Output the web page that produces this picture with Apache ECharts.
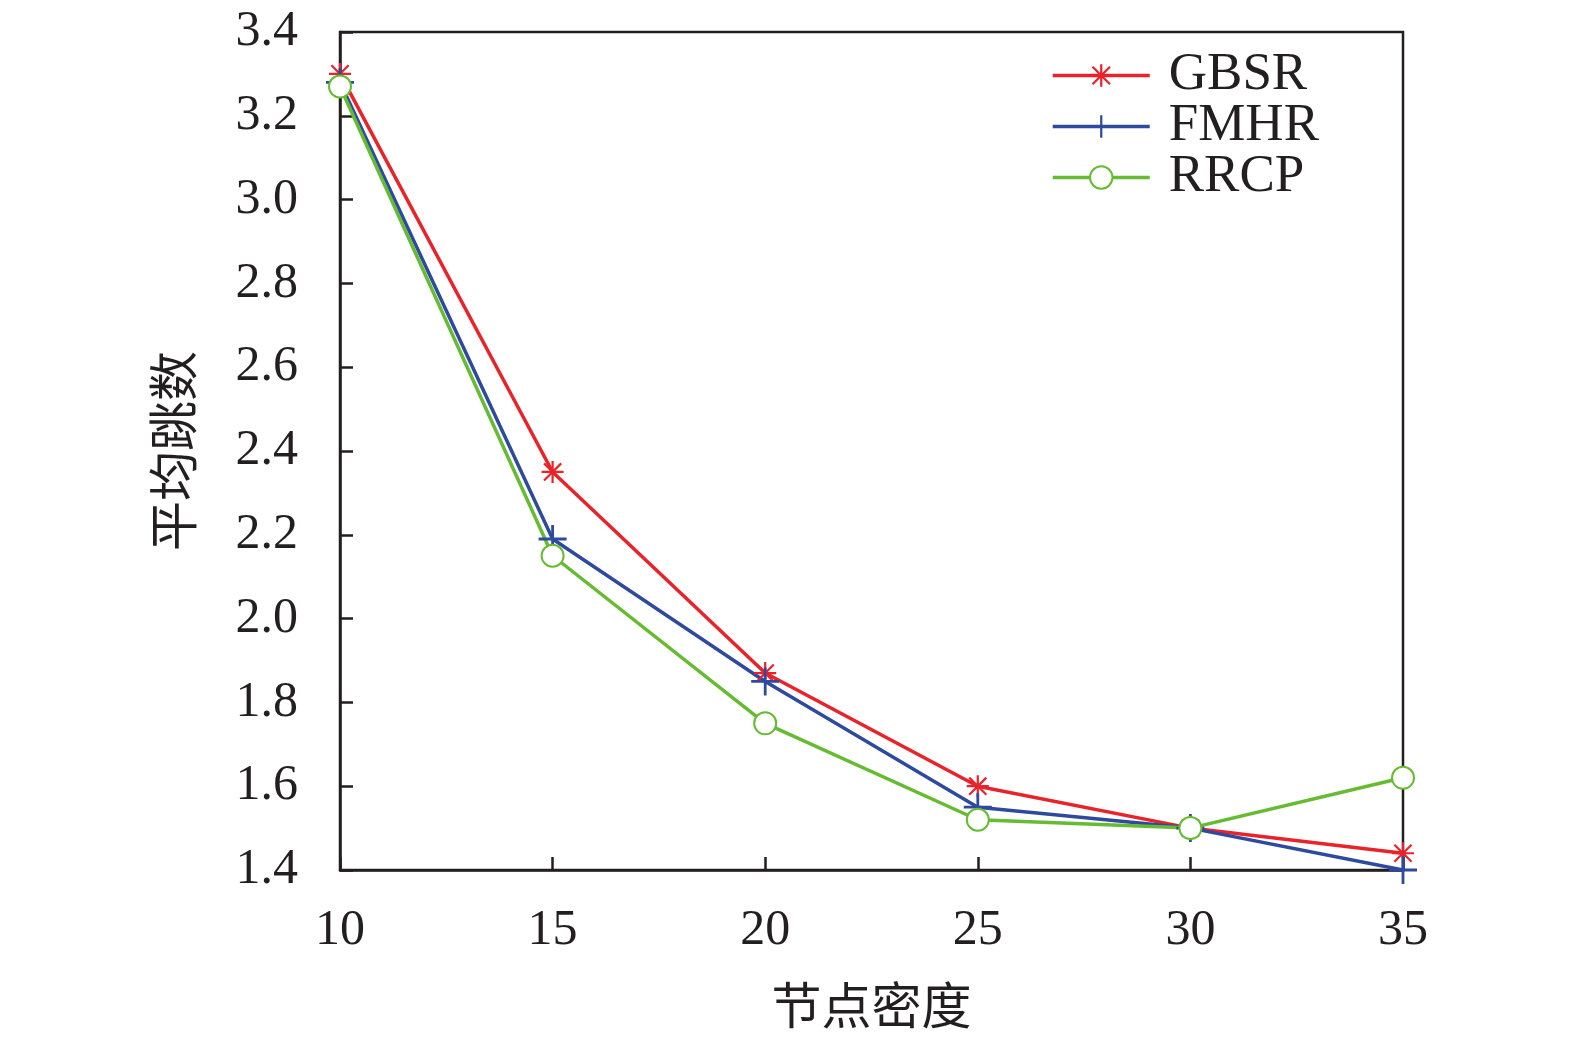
<!DOCTYPE html>
<html>
<head>
    <meta charset="utf-8">
    <title></title>
    <style>
        body{ margin: 0; }
        #chart{ width: 1575px; height: 1041px; }
    </style>
    <script src="https://cdn.jsdelivr.net/npm/echarts@6/dist/echarts.min.js"></script>
</head>
<body>
<div id="chart"></div>
<script>
    var density = [10, 15, 20, 25, 30, 35];
    var gbsr = [3.30, 2.35, 1.87, 1.60, 1.50, 1.44];
    var fmhr = [3.28, 2.19, 1.85, 1.55, 1.50, 1.40];
    var rrcp = [3.27, 2.15, 1.75, 1.52, 1.50, 1.62];
    var names = ['GBSR', 'FMHR', 'RRCP'];

    // 星号和加号的形状
    var starPath = 'path://M9 0H11V20H9Z M0 9H20V11H0Z M1.5 2.9L2.9 1.5L18.5 17.1L17.1 18.5Z M17.1 1.5L18.5 2.9L2.9 18.5L1.5 17.1Z';
    var plusPath = 'path://M9 0H11V20H9Z M0 9H20V11H0Z';

    var serifFont = '"Liberation Serif", "Times New Roman", serif';
    var cjkFont = '"Noto Sans CJK SC", sans-serif';
    var black = '#231f20';

    function pairs(arr){
        var out = [];
        for(var i=0;i<arr.length;i++){
            out.push([density[i], arr[i]]);
        }
        return out;
    }

    var option = {
        animation: false,
        grid: {
            left: 340, right: 172, top: 32, bottom: 171,
            outerBoundsMode: 'none',
            show: true, borderColor: black, borderWidth: 2.5,
            backgroundColor: 'transparent'
        },
        legend: {
            orient: 'vertical',
            left: 1046, top: 44,
            itemWidth: 97, itemHeight: 28, itemGap: -2,
            lineStyle: { width: 3.5 },
            textStyle: { fontFamily: serifFont, fontSize: 53, lineHeight: 45, color: black, padding: [0,0,0,14] },
            data: names
        },
        xAxis: {
            type: 'value', min: 10, max: 35, interval: 5,
            name: '节点密度', nameLocation: 'middle', nameGap: 110,
            nameTextStyle: { fontFamily: cjkFont, fontSize: 50, color: black },
            axisLine: { show: true, lineStyle: { color: black, width: 2.5 } },
            axisTick: { show: true, inside: true, length: 13, lineStyle: { color: black, width: 2.5 } },
            axisLabel: { margin: 36, fontFamily: serifFont, fontSize: 50, color: black },
            splitLine: { show: false }
        },
        yAxis: {
            type: 'value', min: 1.4, max: 3.4, interval: 0.2,
            name: '平均跳数', nameLocation: 'middle', nameGap: 142,
            nameTextStyle: { fontFamily: cjkFont, fontSize: 50, color: black },
            axisLine: { show: true, lineStyle: { color: black, width: 2.5 } },
            axisTick: { show: true, inside: true, length: 13, lineStyle: { color: black, width: 2.5 } },
            axisLabel: {
                margin: 42, fontFamily: serifFont, fontSize: 50, color: black,
                formatter: function(v){ return v.toFixed(1); }
            },
            splitLine: { show: false }
        },
        series: [
            {
                name: 'GBSR', type: 'line', data: pairs(gbsr),
                symbol: starPath, symbolSize: 22,
                lineStyle: { color: '#e8232a', width: 3.5 },
                itemStyle: { color: '#e8232a' }
            },
            {
                name: 'FMHR', type: 'line', data: pairs(fmhr),
                symbol: plusPath, symbolSize: 28,
                lineStyle: { color: '#2e4a9e', width: 3.5 },
                itemStyle: { color: '#2e4a9e' }
            },
            {
                name: 'RRCP', type: 'line', data: pairs(rrcp),
                symbol: 'emptyCircle', symbolSize: 22,
                lineStyle: { color: '#66bb33', width: 3.5 },
                itemStyle: { color: '#66bb33', borderColor: '#66bb33', borderWidth: 3.5 }
            }
        ]
    };

    var myChart = echarts.init(document.getElementById('chart'));
    myChart.setOption(option);
</script>
</body>
</html>
